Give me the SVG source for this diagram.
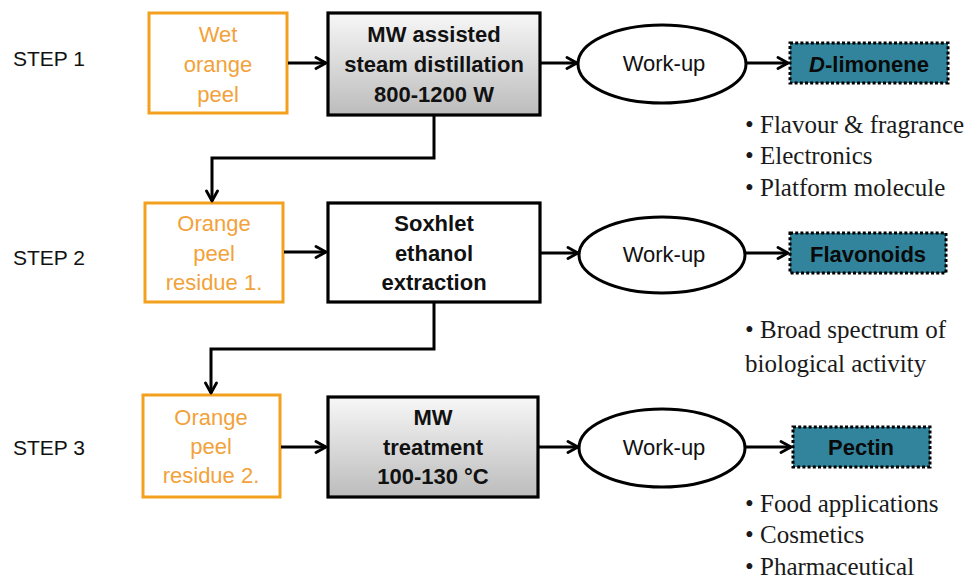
<svg xmlns="http://www.w3.org/2000/svg" width="970" height="582" viewBox="0 0 970 582">
  <defs>
    <linearGradient id="greyFill" x1="0" y1="0" x2="0" y2="1">
      <stop offset="0" stop-color="#f7f7f7"/>
      <stop offset="1" stop-color="#bcbcbc"/>
    </linearGradient>
    <marker id="arrow" viewBox="0 0 14 14" refX="12" refY="7" markerWidth="14" markerHeight="14" markerUnits="userSpaceOnUse" orient="auto">
      <polyline points="2,1.5 12,7 2,12.5" fill="none" stroke="#000" stroke-width="2.8" stroke-linecap="round" stroke-linejoin="round"/>
    </marker>
    <style>
      .step { font-family: "Liberation Sans", Arial, sans-serif; font-size: 21px; fill: #111; }
      .raw { fill: #fff; stroke: #F4A01F; stroke-width: 3; }
      .rawText { font-family: "Liberation Sans", Arial, sans-serif; font-size: 22px; fill: #F2A23A; text-anchor: middle; }
      .proc { stroke: #000; stroke-width: 3.2; }
      .procText { font-family: "Liberation Sans", Arial, sans-serif; font-size: 22px; font-weight: bold; fill: #111; text-anchor: middle; }
      .work { fill: #fff; stroke: #000; stroke-width: 3; }
      .workText { font-family: "Liberation Sans", Arial, sans-serif; font-size: 22px; fill: #111; text-anchor: middle; }
      .prod { fill: #31849B; stroke: #000; stroke-width: 3; stroke-dasharray: 3 2.2; }
      .prodText { font-family: "Liberation Sans", Arial, sans-serif; font-size: 22px; font-weight: bold; fill: #0a0a0a; text-anchor: middle; }
      .use { font-family: "Liberation Serif", "Times New Roman", serif; font-size: 25px; fill: #1a1a1a; }
      .link { fill: none; stroke: #000; stroke-width: 3; marker-end: url(#arrow); }
    </style>
  </defs>

  <rect width="970" height="582" fill="#fff"/>

  <!-- step labels -->
  <text class="step" x="13" y="66">STEP 1</text>
  <text class="step" x="13" y="265">STEP 2</text>
  <text class="step" x="13" y="455">STEP 3</text>

  <!-- step 1 -->
  <g id="wet-peel">
    <rect class="raw" x="149" y="13" width="138" height="100"/>
    <text class="rawText" x="218" y="42">Wet</text>
    <text class="rawText" x="218" y="72">orange</text>
    <text class="rawText" x="218" y="102">peel</text>
  </g>
  <g id="mw-distillation">
    <rect class="proc" x="328" y="13" width="212" height="102" fill="url(#greyFill)"/>
    <text class="procText" x="434" y="42">MW assisted</text>
    <text class="procText" x="434" y="72">steam distillation</text>
    <text class="procText" x="434" y="102">800-1200 W</text>
  </g>
  <g id="workup-1">
    <ellipse class="work" cx="662" cy="64" rx="84" ry="39"/>
    <text class="workText" x="664" y="71">Work-up</text>
  </g>
  <g id="limonene">
    <rect class="prod" x="790" y="43" width="158" height="40"/>
    <text class="prodText" x="869" y="72"><tspan font-style="italic">D</tspan>-limonene</text>
  </g>
  <g id="limonene-uses">
    <text class="use" x="745" y="133">• Flavour &amp; fragrance</text>
    <text class="use" x="745" y="164">• Electronics</text>
    <text class="use" x="745" y="196">• Platform molecule</text>
  </g>

  <!-- step 2 -->
  <g id="residue-1">
    <rect class="raw" x="145" y="203" width="138" height="99"/>
    <text class="rawText" x="214" y="231">Orange</text>
    <text class="rawText" x="214" y="261">peel</text>
    <text class="rawText" x="214" y="290">residue 1.</text>
  </g>
  <g id="soxhlet">
    <rect class="proc" x="328" y="203" width="212" height="99" fill="#fff"/>
    <text class="procText" x="434" y="231">Soxhlet</text>
    <text class="procText" x="434" y="261">ethanol</text>
    <text class="procText" x="434" y="290">extraction</text>
  </g>
  <g id="workup-2">
    <ellipse class="work" cx="662" cy="255" rx="83" ry="38"/>
    <text class="workText" x="664" y="262">Work-up</text>
  </g>
  <g id="flavonoids">
    <rect class="prod" x="790" y="233" width="156" height="40"/>
    <text class="prodText" x="868" y="262">Flavonoids</text>
  </g>
  <g id="flavonoid-uses">
    <text class="use" x="745" y="338">• Broad spectrum of</text>
    <text class="use" x="745" y="372">biological activity</text>
  </g>

  <!-- step 3 -->
  <g id="residue-2">
    <rect class="raw" x="143" y="395" width="137" height="102"/>
    <text class="rawText" x="211" y="425">Orange</text>
    <text class="rawText" x="211" y="454">peel</text>
    <text class="rawText" x="211" y="483">residue 2.</text>
  </g>
  <g id="mw-treatment">
    <rect class="proc" x="328" y="397" width="210" height="100" fill="url(#greyFill)"/>
    <text class="procText" x="433" y="425">MW</text>
    <text class="procText" x="433" y="455">treatment</text>
    <text class="procText" x="433" y="484">100-130 °C</text>
  </g>
  <g id="workup-3">
    <ellipse class="work" cx="662" cy="448" rx="83" ry="39"/>
    <text class="workText" x="664" y="455">Work-up</text>
  </g>
  <g id="pectin">
    <rect class="prod" x="793" y="427" width="137" height="40"/>
    <text class="prodText" x="861" y="455">Pectin</text>
  </g>
  <g id="pectin-uses">
    <text class="use" x="745" y="512">• Food applications</text>
    <text class="use" x="745" y="543">• Cosmetics</text>
    <text class="use" x="745" y="575">• Pharmaceutical</text>
  </g>

  <!-- connectors -->
  <g id="connectors">
    <line class="link" x1="288" y1="63" x2="326" y2="63"/>
    <line class="link" x1="541" y1="63" x2="577" y2="63"/>
    <line class="link" x1="746" y1="63" x2="788" y2="63"/>
    <polyline class="link" points="434,116 434,158 212,158 212,201"/>

    <line class="link" x1="284" y1="252" x2="326" y2="252"/>
    <line class="link" x1="541" y1="253" x2="578" y2="253"/>
    <line class="link" x1="745" y1="253" x2="788" y2="253"/>
    <polyline class="link" points="434,303 434,349 211,349 211,393"/>

    <line class="link" x1="281" y1="447" x2="326" y2="447"/>
    <line class="link" x1="539" y1="447" x2="578" y2="447"/>
    <line class="link" x1="745" y1="447" x2="791" y2="447"/>
  </g>
</svg>
